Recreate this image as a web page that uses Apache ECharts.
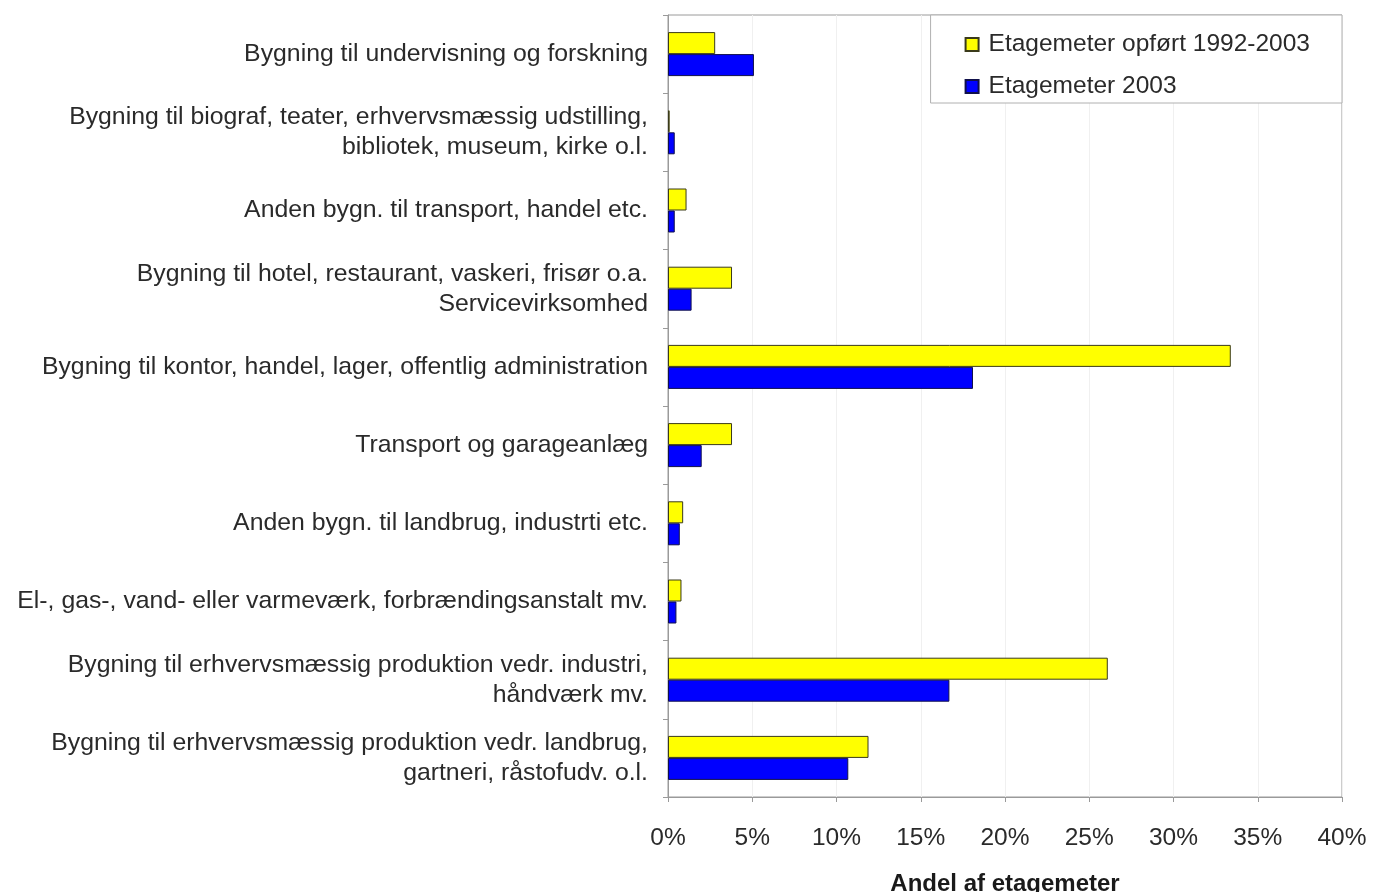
<!DOCTYPE html>
<html>
<head>
<meta charset="utf-8">
<script src="https://cdn.jsdelivr.net/npm/echarts@6/dist/echarts.min.js"></script>
<style>
  html, body { margin: 0; padding: 0; background: #fff; }
  #chart { width: 1376px; height: 892px; }
</style>
</head>
<body>
<div id="chart"></div>
<script>
// Building categories (top to bottom)
const categories = [
  'Bygning til undervisning og forskning',
  'Bygning til biograf, teater, erhvervsmæssig udstilling,\nbibliotek, museum, kirke o.l.',
  'Anden bygn. til transport, handel etc.',
  'Bygning til hotel, restaurant, vaskeri, frisør o.a.\nServicevirksomhed',
  'Bygning til kontor, handel, lager, offentlig administration',
  'Transport og garageanlæg',
  'Anden bygn. til landbrug, industrti etc.',
  'El-, gas-, vand- eller varmeværk, forbrændingsanstalt mv.',
  'Bygning til erhvervsmæssig produktion vedr. industri,\nhåndværk mv.',
  'Bygning til erhvervsmæssig produktion vedr. landbrug,\ngartneri, råstofudv. o.l.'
];

// Share of floor area (%)
const built1992to2003 = [2.8, 0.1, 1.1, 3.8, 33.4, 3.8, 0.9, 0.8, 26.1, 11.9];
const total2003       = [5.1, 0.4, 0.4, 1.4, 18.1, 2.0, 0.7, 0.5, 16.7, 10.7];

const seriesNames = ['Etagemeter opført 1992-2003', 'Etagemeter 2003'];
const xTicks = [0, 5, 10, 15, 20, 25, 30, 35, 40];

const FONT = '"Liberation Sans", Arial, sans-serif';
const chart = echarts.init(document.getElementById('chart'), null, { renderer: 'canvas' });

chart.setOption({
  animation: false,
  backgroundColor: '#ffffff',
  textStyle: { fontFamily: FONT },
  grid: {
    left: 668, top: 15, right: 34, bottom: 95,
    containLabel: false,
    outerBoundsMode: 'none',
    show: true, borderColor: '#9a9a9a', borderWidth: 1, backgroundColor: 'transparent'
  },
  legend: {
    orient: 'vertical',
    right: 34, top: 15,
    itemWidth: 13, itemHeight: 13, itemGap: 17,
    padding: [17, 32, 4, 34],
    borderColor: '#b0b0b0', borderWidth: 1,
    backgroundColor: '#fff',
    icon: 'rect',
    textStyle: { fontFamily: FONT, fontSize: 24.5, color: '#2a2a2a', padding: [0, 0, 0, 5] },
    data: seriesNames
  },
  xAxis: {
    type: 'value',
    min: xTicks[0], max: xTicks[xTicks.length - 1], interval: 5,
    name: 'Andel af etagemeter',
    nameLocation: 'middle', nameGap: 75,
    nameTextStyle: { fontFamily: FONT, fontSize: 24, fontWeight: 'bold', color: '#1a1a1a' },
    axisLine: { show: true, lineStyle: { color: '#9a9a9a' } },
    axisTick: { show: true, length: 5, lineStyle: { color: '#9a9a9a' } },
    axisLabel: {
      formatter: v => v + '%', fontSize: 24.5, color: '#2a2a2a', margin: 29, fontFamily: FONT
    },
    splitLine: { show: true, lineStyle: { color: '#f0f0f0' } }
  },
  yAxis: {
    type: 'category',
    inverse: true,
    data: categories,
    axisLine: { show: true, lineStyle: { color: '#9a9a9a' } },
    axisTick: { show: true, length: 5, lineStyle: { color: '#9a9a9a' } },
    axisLabel: {
      fontSize: 24.8, color: '#2a2a2a', margin: 20, lineHeight: 30,
      align: 'right', fontFamily: FONT
    },
    splitLine: { show: false }
  },
  series: [
    {
      name: seriesNames[0], type: 'bar', data: built1992to2003,
      barWidth: 22, barGap: '0%', barCategoryGap: '42%',
      itemStyle: { color: '#ffff00', borderColor: '#3a3a1a', borderWidth: 1 }
    },
    {
      name: seriesNames[1], type: 'bar', data: total2003,
      barWidth: 22, barGap: '0%',
      itemStyle: { color: '#0000ff', borderColor: '#10104a', borderWidth: 1 }
    }
  ]
});
</script>
</body>
</html>
